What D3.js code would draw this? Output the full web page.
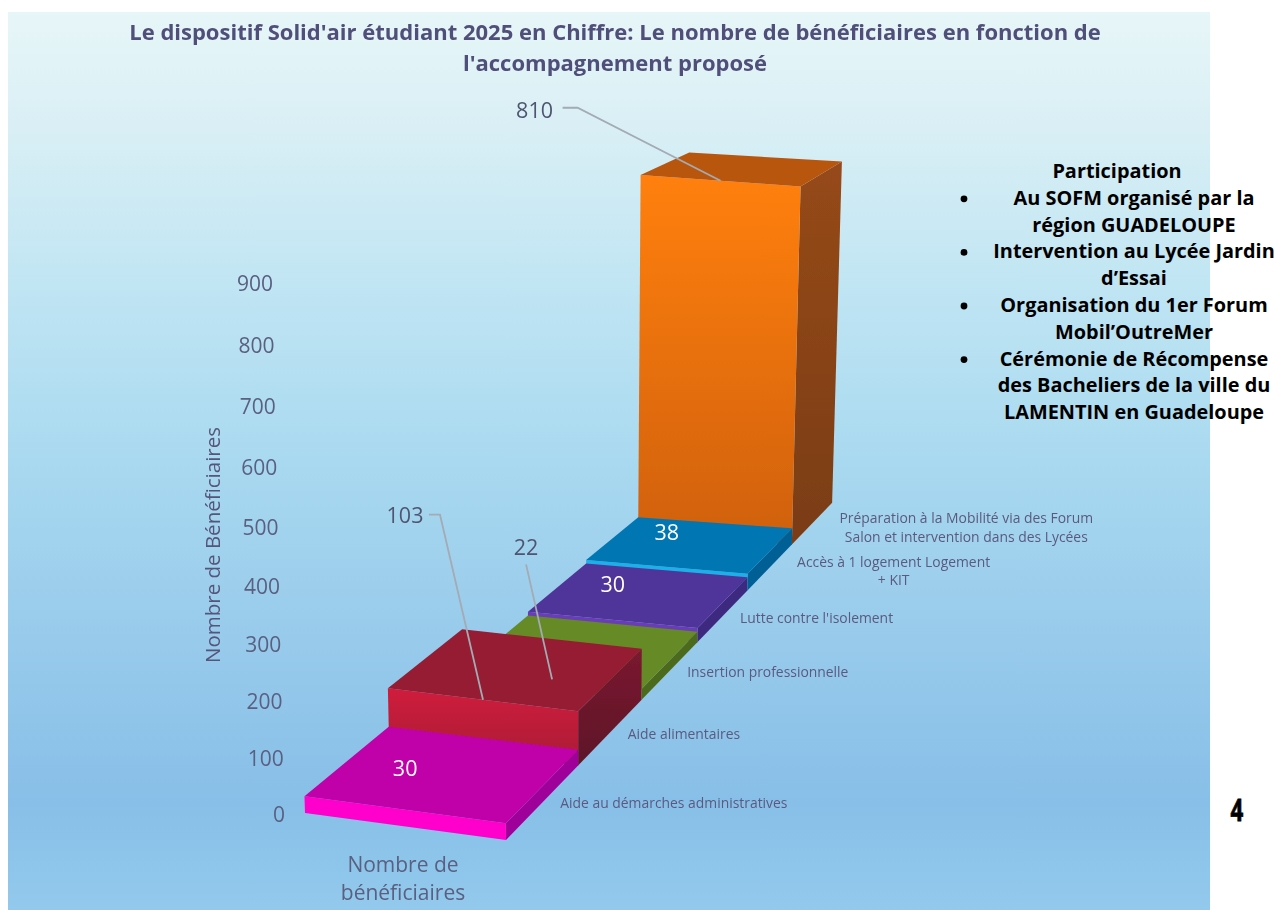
<!DOCTYPE html>
<html>
<head>
<meta charset="utf-8">
<script src="https://cdn.jsdelivr.net/npm/d3@7"></script>
<style>
  html, body { margin: 0; padding: 0; background: #fff; }
  svg { display: block; }
  text { font-family: "Open Sans", sans-serif; }
</style>
</head>
<body>
<svg id="chart" width="1277" height="910"></svg>
<script>
// values, front bar first
const categories = [
    ["Aide au démarches administratives"],
    ["Aide alimentaires"],
    ["Insertion professionnelle"],
    ["Lutte contre l'isolement"],
    ["Accès à 1 logement Logement", "+ KIT"],
    ["Préparation à la Mobilité via des Forum", "Salon et intervention dans des Lycées"]
];
const values = [30, 103, 22, 30, 38, 810];
const yTicks = [0, 100, 200, 300, 400, 500, 600, 700, 800, 900];
const titleLines = [
    "Le dispositif Solid'air étudiant 2025 en Chiffre: Le nombre de bénéficiaires en fonction de",
    "l'accompagnement proposé"
];
const yTitle = "Nombre de Bénéficiaires";
const xTitleLines = ["Nombre de", "bénéficiaires"];
const noteHeading = "Participation";
const noteItems = [
    ["Au SOFM organisé par la", "région GUADELOUPE"],
    ["Intervention au Lycée Jardin", "d’Essai"],
    ["Organisation du 1er Forum", "Mobil’OutreMer"],
    ["Cérémonie de Récompense", "des Bacheliers de la ville du", "LAMENTIN en Guadeloupe"]
];
const pageNumber = "4";

const catKeys = categories.map(d => d.join(" "));

// face colours per bar
const topColor = d3.scaleOrdinal().domain(catKeys)
    .range(["#c000a8", "#951c30", "#668a26", "#50359a", "#0077b3", "#b8560f"]);
const frontColor = d3.scaleOrdinal().domain(catKeys)
    .range(["#ff00cc", "#d01f3c", "#76a02c", "#6a3cb8", "#1fb0ea", "#ff8010"]);
const frontColor2 = d3.scaleOrdinal().domain(catKeys)
    .range(["#ff00cc", "#a81c36", "#76a02c", "#6a3cb8", "#1fb0ea", "#d0600f"]);
const sideColor = d3.scaleOrdinal().domain(catKeys)
    .range(["#a0009a", "#7a1a30", "#4c6a1e", "#3e2a80", "#005f94", "#96491a"]);
const sideColor2 = d3.scaleOrdinal().domain(catKeys)
    .range(["#a0009a", "#5e1428", "#4c6a1e", "#3e2a80", "#005f94", "#7a3d14"]);

// the chart is a 3d one, so the scales feed a small perspective camera
const depth = d3.scaleBand().domain(catKeys).range([0, categories.length]);
const xBase = d3.scaleLinear().domain([0, 1]).range([305, 506]);
const xDepth = d3.scaleLinear().domain([0, 1]).range([111.3, 112.6]);
const yBase = d3.scaleLinear().domain([0, 1]).range([813, 840]);
const yDepth = d3.scaleLinear().domain([0, 1]).range([-18.6, -21]);
const xLift = d3.scaleLinear().domain([0, 900]).range([0, -33.8]);
const yLift = d3.scaleLinear().domain([0, 900]).range([0, -547.8]);
const wLift = d3.scaleLinear().domain([0, 900]).range([0, -0.0585]);
const tickGap = d3.scaleLinear().domain([0, 900]).range([20, 15]);

function project(u, d, v) {
    let w = 1 + 0.07 * d + wLift(v);
    return [
        (xBase(u) + xDepth(u) * d + xLift(v)) / w,
        (yBase(u) + yDepth(u) * d + yLift(v)) / w
    ];
}

const svg = d3.select("#chart");
const defs = svg.append("defs");
const poly = d3.line().curve(d3.curveLinearClosed);

function vGradient(id, stops) {
    let g = defs.append("linearGradient").attr("id", id)
        .attr("x1", 0).attr("y1", 0).attr("x2", 0).attr("y2", 1);
    stops.forEach(s => g.append("stop").attr("offset", s[0]).attr("stop-color", s[1]));
}

vGradient("panelFill", [
    [0, "#e7f6f8"], [0.13, "#d9eff5"], [0.32, "#bee4f3"], [0.5, "#a9d9f0"],
    [0.66, "#9bcdec"], [0.88, "#88bfe8"], [1, "#92c9ec"]
]);

// the source is a soft screenshot
defs.append("filter").attr("id", "soft")
    .append("feGaussianBlur").attr("stdDeviation", 0.5);

svg.append("rect")
    .attr("x", 8).attr("y", 12)
    .attr("width", 1202).attr("height", 898)
    .attr("fill", "url(#panelFill)");

const chartG = svg.append("g").attr("filter", "url(#soft)");

// title
chartG.append("g").selectAll("text").data(titleLines).join("text")
    .attr("x", 615)
    .attr("y", (d, i) => 40 + i * 31)
    .attr("text-anchor", "middle")
    .attr("font-size", 22)
    .attr("font-weight", 700)
    .attr("fill", "#50507a")
    .text(d => d);

// value axis follows the front left edge
chartG.append("g").selectAll("text").data(yTicks).join("text")
    .attr("x", d => project(0, 0, d)[0] - tickGap(d))
    .attr("y", d => project(0, 0, d)[1] + 9)
    .attr("text-anchor", "end")
    .attr("font-size", 21)
    .attr("fill", "#5a6080")
    .text(d => d);

chartG.append("text")
    .attr("transform", "translate(220,545) rotate(-90)")
    .attr("text-anchor", "middle")
    .attr("font-size", 20.5)
    .attr("fill", "#55557a")
    .text(yTitle);

chartG.append("g").selectAll("text").data(xTitleLines).join("text")
    .attr("x", 403)
    .attr("y", (d, i) => 872 + i * 28)
    .attr("text-anchor", "middle")
    .attr("font-size", 21)
    .attr("fill", "#5a6080")
    .text(d => d);

// bars, back to front
const bars = catKeys.map((key, i) => ({key: key, value: values[i], lines: categories[i], index: i}));
const barG = chartG.append("g").selectAll("g").data(bars.slice().reverse()).join("g");

barG.each(function(b) {
    let g = d3.select(this);
    let d0 = depth(b.key);
    let d1 = d0 + depth.bandwidth();
    vGradient("front" + b.index, [[0, frontColor(b.key)], [1, frontColor2(b.key)]]);
    vGradient("side" + b.index, [[0, sideColor(b.key)], [1, sideColor2(b.key)]]);

    g.append("path")
        .attr("d", poly([project(1, d0, b.value), project(1, d1, b.value), project(1, d1, 0), project(1, d0, 0)]))
        .attr("fill", `url(#side${b.index})`);
    g.append("path")
        .attr("d", poly([project(0, d0, b.value), project(1, d0, b.value), project(1, d0, 0), project(0, d0, 0)]))
        .attr("fill", `url(#front${b.index})`);
    g.append("path")
        .attr("d", poly([project(0, d0, b.value), project(1, d0, b.value), project(1, d1, b.value), project(0, d1, b.value)]))
        .attr("fill", topColor(b.key));
});

// category labels next to the right floor edge
const catLabel = chartG.append("g").selectAll("text").data(bars).join("text")
    .attr("font-size", 13.9)
    .attr("fill", "#5a5a7e")
    .attr("text-anchor", "middle");
catLabel.each(function(b) {
    let t = d3.select(this);
    let p = project(1, depth(b.key) + depth.bandwidth() / 2, 0);
    let two = b.lines.length > 1;
    let spans = t.selectAll("tspan").data(b.lines).join("tspan").text(d => d);
    let widest = d3.max(spans.nodes(), n => n.getComputedTextLength());
    let cx = p[0] + (two ? 27 : 17) + widest / 2;
    spans.attr("x", cx).attr("y", (d, i) => p[1] + (two ? 0 : 7) + i * 18.5);
});

// data labels: white ones sit on the top face, the others use a leader line
const leaderPath = d3.line();
const leaders = {
    103: {text: [-78, -177], line: [[-54, -185], [-43, -185]]},
    22: {text: [-26, -124], line: [[-26, -115]]},
    810: {text: [-186, -63], line: [[-158, -73], [-143, -73]]}
};
const labelG = chartG.append("g").selectAll("g").data(bars).join("g");
labelG.each(function(b) {
    let g = d3.select(this);
    let d0 = depth(b.key);
    let a = project(0.5, d0, b.value);
    let l = leaders[b.value];
    if (l) {
        g.append("path")
            .attr("d", leaderPath(l.line.map(o => [a[0] + o[0], a[1] + o[1]]).concat([a])))
            .attr("fill", "none")
            .attr("stroke", "#a3abb4")
            .attr("stroke-width", 1.8);
    }
    g.append("text")
        .attr("x", a[0] + (l ? l.text[0] : 0))
        .attr("y", a[1] + (l ? l.text[1] : -34 / (1 + 0.07 * d0)))
        .attr("text-anchor", "middle")
        .attr("font-size", 21.5)
        .attr("fill", l ? "#4f5570" : "#fff")
        .text(b.value);
});

// note on the right
const note = svg.append("g").attr("font-size", 19.9).attr("font-weight", 700).attr("fill", "#000");
note.append("text")
    .attr("x", 1117).attr("y", 178)
    .attr("text-anchor", "middle")
    .text(noteHeading);
let lineNo = 1;
noteItems.forEach(item => {
    note.append("circle")
        .attr("cx", 964)
        .attr("cy", 171 + lineNo * 26.8 + 1)
        .attr("r", 3.4);
    item.forEach(line => {
        note.append("text")
            .attr("x", 1134)
            .attr("y", 178 + lineNo * 26.8)
            .attr("text-anchor", "middle")
            .text(line);
        lineNo++;
    });
});

svg.append("text")
    .attr("transform", "translate(1237,821) scale(0.72,1)")
    .attr("text-anchor", "middle")
    .attr("font-size", 31)
    .attr("font-weight", 700)
    .attr("fill", "#000")
    .attr("stroke", "#000")
    .attr("stroke-width", 0.8)
    .text(pageNumber);
</script>
</body>
</html>
